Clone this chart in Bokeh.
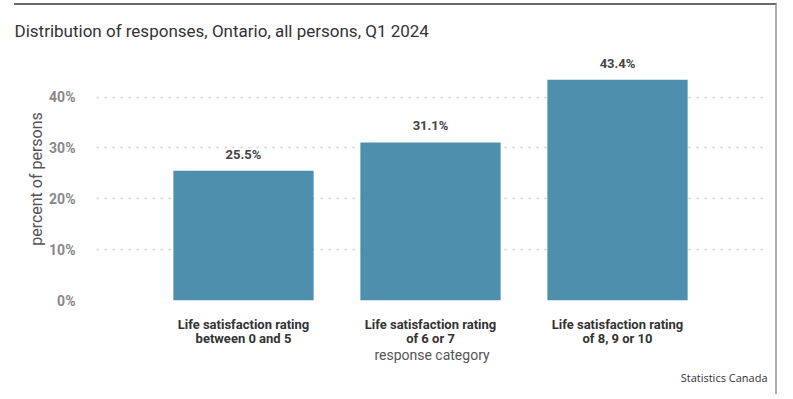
from bokeh.plotting import figure
from bokeh.models import Range1d, FixedTicker, PrintfTickFormatter, ColumnDataSource, Title
from bokeh.core.properties import value
from bokeh.embed import file_html
from bokeh.resources import INLINE

categories = ["Life satisfaction rating\nbetween 0 and 5",
              "Life satisfaction rating\nof 6 or 7",
              "Life satisfaction rating\nof 8, 9 or 10"]
percents = [25.5, 31.1, 43.4]
y_ticks = [0, 10, 20, 30, 40]

title_text = "Distribution of responses, Ontario, all persons, Q1 2024"
source_text = "Statistics Canada"
FONT = "Roboto"

# canvas origin on the page: (14, 5) after margins + top border
OX, OY = 14, 5
FL, FR, FT, FB = 96 - OX, 767 - OX, 53 - OY, 300 - OY
W, H = 777 - OX, 391

xs = list(range(len(categories)))
src = ColumnDataSource(dict(x=xs, y=percents, lab=[f"{v}%" for v in percents]))

p = figure(width=W, height=H, output_backend="svg", toolbar_location=None,
           x_range=Range1d(-0.786, 2.802), y_range=Range1d(0, 47.8),
           min_border_left=FL, min_border_right=W - FR, min_border_top=FT, min_border_bottom=H - FB)
p.outline_line_color = None
p.background_fill_color = "white"
p.border_fill_color = "white"
p.styles = {"margin-left": "14px", "margin-top": "3px",
            "border-top": "2px solid #6a6a6a", "border-right": "2px solid #b0b0b0"}

p.vbar(x="x", top="y", width=0.75, source=src, fill_color="#4e8fae", line_color=None)
p.text(x="x", y="y", text="lab", source=src, y_offset=-9, text_align="center",
       text_baseline="bottom", text_font=value(FONT), text_font_style="bold",
       text_font_size="13px", text_color="#444444")

p.xgrid.grid_line_color = None
p.ygrid.ticker = FixedTicker(ticks=y_ticks)
p.ygrid.grid_line_color = "#cccccc"
p.ygrid.grid_line_dash = "2 6"
p.ygrid.grid_line_width = 1.5

p.yaxis.ticker = FixedTicker(ticks=y_ticks)
p.yaxis.formatter = PrintfTickFormatter(format="%d%%")
p.yaxis.axis_line_color = None
p.yaxis.major_tick_line_color = None
p.yaxis.minor_tick_line_color = None
p.yaxis.major_label_text_font = FONT
p.yaxis.major_label_text_font_style = "bold"
p.yaxis.major_label_text_font_size = "14px"
p.yaxis.major_label_text_color = "#888888"
p.yaxis.major_label_standoff = 15
p.yaxis.axis_label = "percent of persons"
p.yaxis.axis_label_text_font = FONT
p.yaxis.axis_label_text_font_style = "normal"
p.yaxis.axis_label_text_font_size = "16px"
p.yaxis.axis_label_text_color = "#555555"
p.yaxis.axis_label_standoff = 0

p.xaxis.ticker = FixedTicker(ticks=xs)
p.xaxis.major_label_overrides = {i: c for i, c in zip(xs, categories)}
p.xaxis.axis_line_color = None
p.xaxis.major_tick_line_color = None
p.xaxis.minor_tick_line_color = None
p.xaxis.major_label_text_font = FONT
p.xaxis.major_label_text_font_style = "bold"
p.xaxis.major_label_text_font_size = "13px"
p.xaxis.major_label_text_line_height = 0.95
p.xaxis.major_label_text_color = "#333333"
p.xaxis.major_label_standoff = 10
p.xaxis.axis_label = "response category"
p.xaxis.axis_label_text_font = FONT
p.xaxis.axis_label_text_font_style = "normal"
p.xaxis.axis_label_text_font_size = "14px"
p.xaxis.axis_label_text_color = "#555555"
p.xaxis.axis_label_standoff = -2

p.title.text = title_text
p.title.align = "left"
p.title.vertical_align = "top"
p.title.offset = -FL
p.title.text_font = FONT
p.title.text_font_style = "normal"
p.title.text_font_size = "17px"
p.title.text_color = "#333333"
p.title.standoff = 30

p.add_layout(Title(text=source_text, align="right", offset=0, standoff=4,
                   text_font="Open Sans", text_font_size="11px", text_font_style="normal",
                   text_color="#333333"), "below")

with open("out.html", "w") as f:
    f.write(file_html(p, INLINE))
